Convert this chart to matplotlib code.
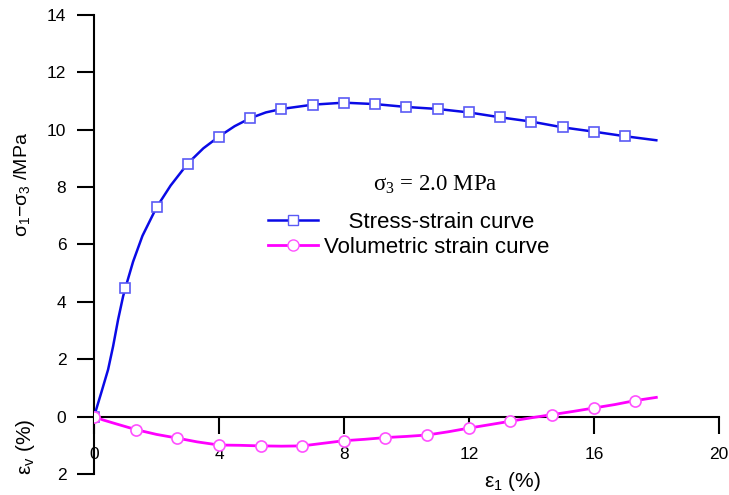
import numpy as np
import matplotlib
matplotlib.use("Agg")
import matplotlib.pyplot as plt
from matplotlib.ticker import FuncFormatter

plt.rcParams['font.family'] = ['Liberation Sans', 'DejaVu Sans']
plt.rcParams['mathtext.fontset'] = 'custom'
plt.rcParams['mathtext.rm'] = 'Liberation Sans'
plt.rcParams['mathtext.default'] = 'regular'

# stress-strain curve (deviatoric stress, MPa) vs axial strain (%)
stress_x = [0, 0.23, 0.45, 0.61, 0.77, 0.93, 1.0, 1.25, 1.55, 2, 2.45, 3, 3.5, 4, 4.5, 5, 5.5,
            6, 7, 8, 9, 10, 11, 12, 13, 14, 15, 16, 17, 18]
stress_y = [0, 0.83, 1.64, 2.45, 3.38, 4.19, 4.47, 5.4, 6.3, 7.29, 8.05, 8.82, 9.35, 9.76, 10.12,
            10.4, 10.6, 10.72, 10.87, 10.94, 10.89, 10.79, 10.72, 10.6, 10.43, 10.28, 10.08,
            9.93, 9.77, 9.63]
stress_mark_x = [0, 1, 2, 3, 4, 5, 6, 7, 8, 9, 10, 11, 12, 13, 14, 15, 16, 17]
stress_mark_y = [0, 4.47, 7.29, 8.82, 9.76, 10.4, 10.72, 10.87, 10.94, 10.89, 10.79, 10.72,
                 10.6, 10.43, 10.28, 10.08, 9.93, 9.77]

# volumetric strain curve (%), drawn downward as negative
vol_x = [0, 0.3, 0.7, 1.33, 2.0, 2.67, 3.3, 4.0, 4.67, 5.33, 6.0, 6.67, 7.33, 8.0, 8.67,
         9.33, 10.0, 10.67, 11.33, 12.0, 12.67, 13.33, 14.0, 14.67, 15.33, 16.0, 16.67,
         17.33, 18.0]
vol_y = [0, -0.12, -0.25, -0.45, -0.62, -0.75, -0.88, -0.99, -1.0, -1.02, -1.03, -1.02, -0.93,
         -0.84, -0.79, -0.73, -0.69, -0.64, -0.53, -0.40, -0.28, -0.16, -0.04, 0.07, 0.18,
         0.30, 0.42, 0.56, 0.67]
vol_mark_x = [0, 1.33, 2.67, 4.0, 5.33, 6.67, 8.0, 9.33, 10.67, 12.0, 13.33, 14.67, 16.0, 17.33]
vol_mark_y = [0, -0.45, -0.75, -0.99, -1.02, -1.02, -0.84, -0.73, -0.64, -0.40, -0.16, 0.07,
              0.30, 0.56]

fig = plt.figure(figsize=(7.29, 4.95), dpi=100)
ax = fig.add_axes([0.129, 0.0424, 0.857, 0.9276])

blue, blue_edge = '#0a0ae6', '#5a5af5'
mag, mag_edge = '#ff00ff', '#ff50ff'

ax.plot(stress_x, stress_y, color=blue, lw=1.8, zorder=3)
ax.plot(stress_mark_x, stress_mark_y, ls='none', marker='s', ms=7.5, mfc='white',
        mec=blue_edge, mew=1.2, zorder=4)
ax.plot(vol_x, vol_y, color=mag, lw=2.0, zorder=3)
ax.plot(vol_mark_x, vol_mark_y, ls='none', marker='o', ms=8, mfc='white',
        mec=mag_edge, mew=1.2, zorder=4)

# legend proxies
h1, = ax.plot([], [], color=blue, lw=1.8, marker='s', ms=7.5, mfc='white', mec=blue_edge)
h2, = ax.plot([], [], color=mag, lw=2.0, marker='o', ms=8, mfc='white', mec=mag_edge)
ax.legend([h1, h2], ['    Stress-strain curve', 'Volumetric strain curve'],
          loc='upper left', bbox_to_anchor=(0.278, 0.571), frameon=False,
          fontsize=16, handlelength=2.25, handletextpad=0.3, labelspacing=0.2,
          borderpad=0, borderaxespad=0)

ax.text(0.5456, 0.6295, r'σ$_3$ = 2.0 MPa', transform=ax.transAxes, ha='center',
        va='center', fontsize=16.5, family='Liberation Serif', math_fontfamily='custom')

ax.set_xlim(0, 20)
ax.set_ylim(-2, 14)
ax.set_xticks([0, 4, 8, 12, 16, 20])
ax.set_yticks([-2, 0, 2, 4, 6, 8, 10, 12, 14])
ax.yaxis.set_major_formatter(FuncFormatter(lambda v, p: f"{abs(v):g}"))

ax.spines['top'].set_visible(False)
ax.spines['right'].set_visible(False)
ax.spines['bottom'].set_position(('data', 0))
for s in ('left', 'bottom'):
    ax.spines[s].set_linewidth(1.5)
ax.tick_params(axis='both', direction='out', length=12, width=1.5, labelsize=12.5)
ax.tick_params(axis='x', pad=10)
ax.tick_params(axis='y', pad=8)

ax.text(-0.115, 0.63, r'σ$_1$−σ$_3$ /MPa', transform=ax.transAxes, rotation=90,
        ha='center', va='center', fontsize=14)
ax.text(-0.11, 0.059, r'ε$_v$ (%)', transform=ax.transAxes, rotation=90,
        ha='center', va='center', fontsize=15)
ax.text(0.67, -0.017, r'ε$_1$ (%)', transform=ax.transAxes, ha='center', va='center',
        fontsize=15)

fig.savefig('out.png', dpi=100)
